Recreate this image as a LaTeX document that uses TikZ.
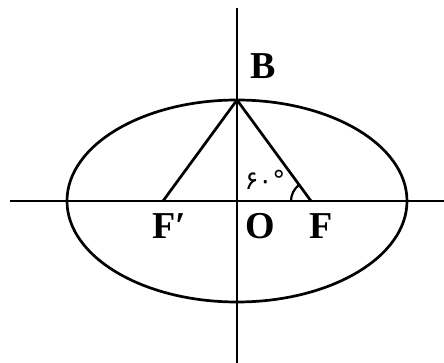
\documentclass[tikz,border=0pt]{standalone}
\usepackage{fontspec}
\setmainfont{Liberation Serif}
\newfontfamily\arabicfont[Script=Arabic]{DejaVu Sans}

\begin{document}
\begin{tikzpicture}[
    x=1pt, y=1pt,
    every node/.style={font=\fontsize{38}{40}\selectfont\bfseries, inner sep=0pt},
    line width=2.7pt,
]

% === Ellipse sizes ===
\def\semiA{170}
\def\semiB{101}
\def\focC{74}
\def\arcR{20}

\useasboundingbox (-237,-162) rectangle (207,201);

% === Points ===
\coordinate (O) at (0,0);
\coordinate (B) at (0,\semiB);
\coordinate (F) at (\focC,0);
\coordinate (Fp) at (-\focC,0);
\coordinate (xl) at (-227,0);
\coordinate (xr) at (207,0);
\coordinate (yt) at (0,193);
\coordinate (yb) at (0,-162);

% Axes
\draw (xl) -- (xr);
\draw (yt) -- (yb);

% Ellipse
\draw (O) ellipse[x radius=\semiA, y radius=\semiB];

% Triangle F'BF
\draw[line join=miter] (Fp) -- (B) -- (F);

% Angle at F
\pgfmathsetmacro{\angFB}{atan2(\semiB,-\focC)}
\draw[line width=2.2pt] (F) ++(180:\arcR) arc[start angle=180, end angle=\angFB, radius=\arcR];

% === Labels ===
\node (labB) at (26.5,134.5) {B};
\node (labFp) at (-68,-25.5) {F′};
\node (labO) at (23,-25.5) {O};
\node (labF) at (84.5,-25.5) {F};
\node[font=\arabicfont\fontsize{26}{28}\selectfont] (labAng) at (28,21) {۶۰°};

\end{tikzpicture}
\end{document}
